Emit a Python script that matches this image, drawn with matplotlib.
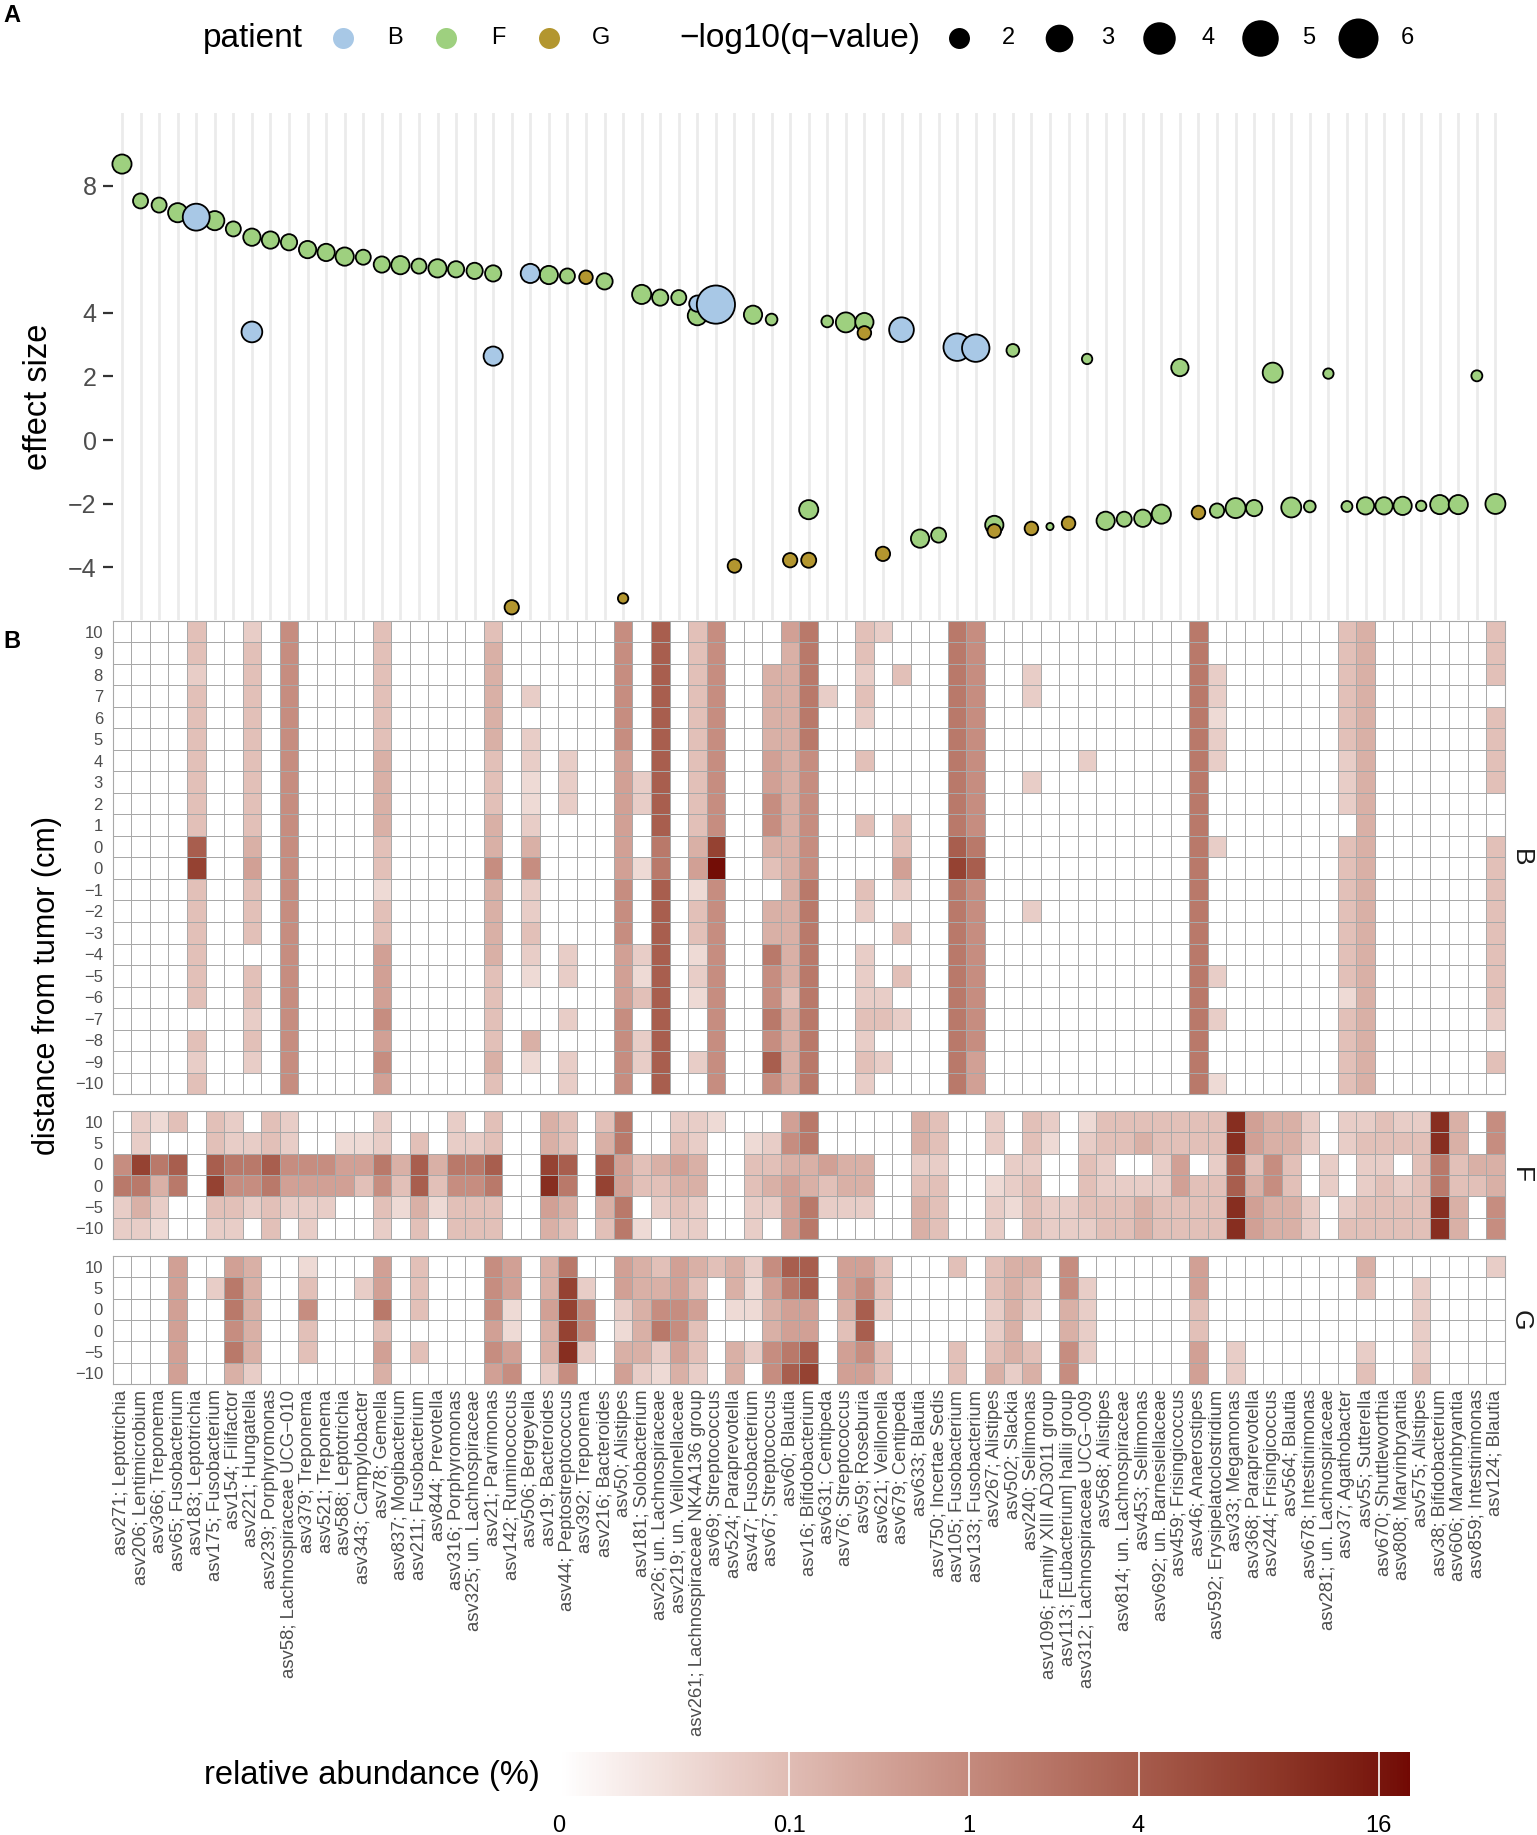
import numpy as np
import matplotlib
matplotlib.use("Agg")
import matplotlib.pyplot as plt
from matplotlib.colors import ListedColormap, FuncNorm, to_rgb

plt.rcParams["font.family"] = ["Liberation Sans", "DejaVu Sans"]

# Taxa on the shared x axis (left to right)
taxa = [
    "asv271; Leptotrichia", "asv206; Lentimicrobium", "asv366; Treponema",
    "asv65; Fusobacterium", "asv183; Leptotrichia", "asv175; Fusobacterium",
    "asv154; Filifactor", "asv221; Hungatella", "asv239; Porphyromonas",
    "asv58; Lachnospiraceae UCG\u2212010", "asv379; Treponema", "asv521; Treponema",
    "asv588; Leptotrichia", "asv343; Campylobacter", "asv78; Gemella",
    "asv837; Mogibacterium", "asv211; Fusobacterium", "asv844; Prevotella",
    "asv316; Porphyromonas", "asv325; un. Lachnospiraceae", "asv21; Parvimonas",
    "asv142; Ruminococcus", "asv506; Bergeyella", "asv19; Bacteroides",
    "asv44; Peptostreptococcus", "asv392; Treponema", "asv216; Bacteroides",
    "asv50; Alistipes", "asv181; Solobacterium", "asv26; un. Lachnospiraceae",
    "asv219; un. Veillonellaceae", "asv261; Lachnospiraceae NK4A136 group",
    "asv69; Streptococcus", "asv524; Paraprevotella", "asv47; Fusobacterium",
    "asv67; Streptococcus", "asv60; Blautia", "asv16; Bifidobacterium",
    "asv631; Centipeda", "asv76; Streptococcus", "asv59; Roseburia",
    "asv621; Veillonella", "asv679; Centipeda", "asv633; Blautia",
    "asv750; Incertae Sedis", "asv105; Fusobacterium", "asv133; Fusobacterium",
    "asv267; Alistipes", "asv502; Slackia", "asv240; Sellimonas",
    "asv1096; Family XIII AD3011 group", "asv113; [Eubacterium] hallii group",
    "asv312; Lachnospiraceae UCG\u2212009", "asv568; Alistipes",
    "asv814; un. Lachnospiraceae", "asv453; Sellimonas",
    "asv692; un. Barnesiellaceae", "asv459; Frisingicoccus", "asv46; Anaerostipes",
    "asv592; Erysipelatoclostridium", "asv33; Megamonas", "asv368; Paraprevotella",
    "asv244; Frisingicoccus", "asv564; Blautia", "asv678; Intestinimonas",
    "asv281; un. Lachnospiraceae", "asv37; Agathobacter", "asv55; Sutterella",
    "asv670; Shuttleworthia", "asv808; Marvinbryantia", "asv575; Alistipes",
    "asv38; Bifidobacterium", "asv606; Marvinbryantia", "asv859; Intestinimonas",
    "asv124; Blautia",
]

# Panel A: effect size and -log10(q) per patient
b_asv = ["asv183", "asv221", "asv21", "asv506", "asv261", "asv69", "asv679", "asv105", "asv133"]
b_effect = [7.01, 3.40, 2.64, 5.24, 4.29, 4.26, 3.47, 2.92, 2.89]
b_q = [3.2, 2.2, 2.0, 2.0, 1.7, 6.0, 2.8, 3.3, 3.3]

f_asv = ["asv271", "asv206", "asv366", "asv65", "asv175", "asv154", "asv221", "asv239",
         "asv58", "asv379", "asv521", "asv588", "asv343", "asv78", "asv837", "asv211",
         "asv844", "asv316", "asv325", "asv21", "asv19", "asv44", "asv216", "asv181",
         "asv26", "asv219", "asv261", "asv47", "asv67", "asv16", "asv631", "asv76",
         "asv59", "asv633", "asv750", "asv267", "asv502", "asv1096", "asv312", "asv568",
         "asv814", "asv453", "asv692", "asv459", "asv592", "asv33", "asv368", "asv244",
         "asv564", "asv678", "asv281", "asv37", "asv55", "asv670", "asv808", "asv575",
         "asv38", "asv606", "asv859", "asv124"]
f_effect = [8.68, 7.52, 7.39, 7.15, 6.90, 6.64, 6.38, 6.29, 6.22, 5.99,
            5.90, 5.77, 5.75, 5.52, 5.50, 5.47, 5.40, 5.37, 5.32, 5.24,
            5.19, 5.16, 4.99, 4.58, 4.48, 4.48, 3.91, 3.94, 3.79, -2.19,
            3.73, 3.70, 3.71, -3.10, -2.99, -2.67, 2.82, -2.72, 2.55, -2.54,
            -2.49, -2.46, -2.33, 2.28, -2.22, -2.14, -2.14, 2.12, -2.12, -2.09,
            2.09, -2.09, -2.07, -2.07, -2.07, -2.07, -2.03, -2.03, 2.02, -2.01]
f_q = [2.0, 1.6, 1.6, 2.0, 2.0, 1.6, 1.8, 1.8, 1.7, 1.8,
       1.8, 1.9, 1.6, 1.7, 1.9, 1.6, 1.9, 1.7, 1.7, 1.7,
       1.9, 1.6, 1.7, 2.0, 1.7, 1.6, 2.0, 1.9, 1.4, 2.0,
       1.4, 2.1, 1.9, 1.9, 1.6, 1.9, 1.45, 1.3, 1.35, 1.9,
       1.6, 1.8, 2.0, 1.8, 1.55, 2.1, 1.7, 2.1, 2.1, 1.4,
       1.35, 1.37, 1.8, 1.8, 1.9, 1.35, 2.0, 2.0, 1.37, 2.1]

g_asv = ["asv142", "asv392", "asv50", "asv524", "asv60", "asv16", "asv59", "asv621",
         "asv267", "asv240", "asv113", "asv46"]
g_effect = [-5.26, 5.12, -4.98, -3.96, -3.78, -3.78, 3.37, -3.58, -2.86, -2.78, -2.62, -2.28]
g_q = [1.55, 1.5, 1.35, 1.5, 1.55, 1.6, 1.5, 1.55, 1.5, 1.5, 1.5, 1.5]

patient_colors = {"B": "#a8c8e6", "F": "#9ed07f", "G": "#b3962f"}

# Panel B: abundance levels, one string per taxon, rows from top to bottom
level_pct = {"0": 0.0, "1": 0.01, "2": 0.03, "3": 0.08, "4": 0.2, "5": 0.42,
             "6": 0.9, "7": 1.8, "8": 3.8, "9": 7.5, "A": 11.0, "B": 18.0}

dist_b = ["10", "9", "8", "7", "6", "5", "4", "3", "2", "1", "0", "0",
          "\u22121", "\u22122", "\u22123", "\u22124", "\u22125", "\u22126",
          "\u22127", "\u22128", "\u22129", "\u221210"]
dist_fg = ["10", "5", "0", "0", "\u22125", "\u221210"]

heat_b = [
    "0000000000000000000000", "0000000000000000000000", "0000000000000000000000",
    "0000000000000000000000", "3323333333893333330323", "0000000000000000000000",
    "0000000000000000000000", "2333333333453330332320", "0000000000000000000000",
    "6666666666666666666666",  # 10
    "0000000000000000000000", "0000000000000000000000", "0000000000000000000000",
    "0000000000000000000000", "3333334444331335556565", "0000000000000000000000",
    "0000000000000000000000", "0000000000000000000000", "0000000000000000000000",
    "0000000000000000000000",  # 20
    "3444443334464444333343", "0000000000000000000000", "0002022112462232100410",
    "0000000000000000000000", "0000002220000002202022", "0000000000000000000000",
    "0000000000000000000000", "6666665555556665556666", "0000000220010002130220",
    "8888888888778888888888",  # 30
    "0000000000000000000000", "3333333333451331210020", "66666666669B6666666666",
    "0000000000000000000000", "0000000000000000000000", "0044445566430447667686",
    "5444444444444444434444", "7777776666667777777777", "0002000000000000000000",
    "0000000000000000000000",  # 40
    "3323203003003202223232", "2000000000000000023020", "0030000003352030302000",
    "0000000000000000000000", "0000000000000000000000", "7777777777897777777777",
    "6666666666786666666655", "0000000000000000000000", "0000000000000000000000",
    "0022000200000200000000",  # 50
    "0000000000000000000000", "0000000000000000000000", "0000002000000000000000",
    "0000000000000000000000", "0000000000000000000000", "0000000000000000000000",
    "0000000000000000000000", "0000000000000000000000", "7777777777777777777777",
    "0022122000200000202001",  # 60
    "0000000000000000000000", "0000000000000000000000", "0000000000000000000000",
    "0000000000000000000000", "0000000000000000000000", "0000000000000000000000",
    "3333332220333333313333", "4444444444444444444444", "0000000000000000000000",
    "0000000000000000000000",  # 70
    "0000000000000000000000", "0000000000000000000000", "0000000000000000000000",
    "0000000000000000000000", "3330333300333333332030",
]

heat_f = [
    "006722", "229742", "107421", "308700", "000000", "338932", "227632", "027620", "338733", "226520",
    "006522", "006520", "015500", "015300", "227632", "004310", "038843", "004310", "227633", "027633",
    "338733", "000000", "000000", "449A54", "338743", "000000", "348943", "775577", "003301", "004320",
    "235432", "224422", "100000", "000000", "013322", "023420", "564555", "774477", "005320", "004420",
    "004420", "000000", "000000", "442344", "332333", "000000", "000000", "220122", "002210", "332333",
    "210022", "000022", "123332", "332233", "330233", "340244", "332233", "335533", "330333", "332333",
    "AA88AA", "553455", "446644", "443344", "220022", "002200", "220023", "232233", "332333", "230233",
    "233333", "AA77AA", "443344", "004300", "664466",
]

heat_g = [
    "000000", "000000", "000000", "555555", "000000", "020000", "577674", "444442", "000000", "000000",
    "136330", "000000", "000000", "020000", "557354", "000000", "333030", "000000", "000000", "000000",
    "666565", "551156", "000000", "445442", "7999A6", "026620", "000000", "552145", "444442", "346721",
    "556654", "435332", "300000", "441044", "211020", "654466", "875578", "885589", "000000", "554355",
    "568865", "332033", "000000", "000000", "000000", "300033", "000000", "332234", "444442", "432034",
    "000000", "664466", "022220", "000000", "000000", "000000", "000000", "000000", "553355", "000000",
    "000022", "000000", "000000", "000000", "000000", "000000", "000000", "430023", "000000", "000000",
    "022223", "000000", "000000", "000000", "200000",
]

assert len(taxa) == 75 and len(heat_b) == 75 and len(heat_f) == 75 and len(heat_g) == 75
assert all(len(s) == 22 for s in heat_b)
assert all(len(s) == 6 for s in heat_f + heat_g)

asv_ids = [t.split(";")[0] for t in taxa]
pos = {a: i + 1 for i, a in enumerate(asv_ids)}

W, H = 1537, 1835


def fx(px):
    return px / W


def fy(py):
    return 1 - py / H


# white -> dark red gradient interpolated in Lab space (like ggplot)
RGB2XYZ = np.array([[0.4124, 0.3576, 0.1805],
                    [0.2126, 0.7152, 0.0722],
                    [0.0193, 0.1192, 0.9505]])
WHITE = np.array([0.95047, 1.0, 1.08883])


def to_lab(color):
    c = np.array(to_rgb(color))
    lin = np.where(c <= 0.04045, c / 12.92, ((c + 0.055) / 1.055) ** 2.4)
    xyz = RGB2XYZ @ lin / WHITE
    f = np.where(xyz > 0.008856, np.cbrt(xyz), 7.787 * xyz + 16 / 116)
    return np.array([116 * f[1] - 16, 500 * (f[0] - f[1]), 200 * (f[1] - f[2])])


def from_lab(lab):
    fyv = (lab[0] + 16) / 116
    f = np.array([fyv + lab[1] / 500, fyv, fyv - lab[2] / 200])
    xyz = np.where(f ** 3 > 0.008856, f ** 3, (f - 16 / 116) / 7.787) * WHITE
    lin = np.clip(np.linalg.solve(RGB2XYZ, xyz), 0, 1)
    c = np.where(lin <= 0.0031308, 12.92 * lin, 1.055 * lin ** (1 / 2.4) - 0.055)
    return np.clip(c, 0, 1)


lab_lo, lab_hi = to_lab("#ffffff"), to_lab("#720904")
cmap = ListedColormap([from_lab(lab_lo + t * (lab_hi - lab_lo)) for t in np.linspace(0, 1, 256)])
norm = FuncNorm((lambda x: np.power(np.clip(x, 0, None), 0.25), lambda y: np.power(y, 4)),
                vmin=0, vmax=18.6)


# point size: ggplot-like area scale, diameter in pixels
def marker_area(q, lw=1.3):
    q = np.asarray(q, dtype=float)
    d = 9 + 31 * np.sqrt(np.clip((q - 1.3) / 4.7, 0, 1))
    return (d * 0.72 - lw) ** 2


fig = plt.figure(figsize=(W / 100, H / 100), dpi=100)

# overlay for titles and legends (pixel coordinates)
ov = fig.add_axes([0, 0, 1, 1])
ov.set_xlim(0, W)
ov.set_ylim(H, 0)
ov.axis("off")

# ---- Panel A: effect sizes ----
ax = fig.add_axes([fx(112.7), fy(620), (1504.7 - 112.7) / W, (620 - 113.5) / H])
ax.set_xlim(0.5, 75.5)
ax.set_ylim(-5.66, 10.27)
ax.set_xticks(np.arange(1, 76))
ax.grid(axis="x", color="#ebebeb", linewidth=2.0)
ax.set_axisbelow(True)
for s in ax.spines.values():
    s.set_visible(False)
ax.tick_params(axis="x", length=0, labelbottom=False)
ax.set_yticks([8, 4, 2, 0, -2, -4])
ax.set_yticklabels(["8", "4", "2", "0", "\u22122", "\u22124"])
ax.tick_params(axis="y", length=7, width=1.6, color="#333333", labelsize=18,
               labelcolor="#4d4d4d", pad=4.5)

for asvs, eff, q, key in [(f_asv, f_effect, f_q, "F"),
                          (b_asv, b_effect, b_q, "B"),
                          (g_asv, g_effect, g_q, "G")]:
    ax.scatter([pos[a] for a in asvs], eff, s=marker_area(q), color=patient_colors[key],
               edgecolor="black", linewidth=1.3, zorder=3, clip_on=False)

# ---- Panel B: heatmaps ----
panels = [("B", heat_b, dist_b, 621, 1094),
          ("F", heat_f, dist_fg, 1111, 1239),
          ("G", heat_g, dist_fg, 1256, 1384)]
mesh = None
for name, cols, rows, top, bottom in panels:
    hx = fig.add_axes([fx(112.7), fy(bottom), (1504.7 - 112.7) / W, (bottom - top) / H])
    n = len(rows)
    mat = np.array([[level_pct[cols[c][r]] for c in range(75)] for r in range(n)])
    mesh = hx.pcolormesh(np.arange(76) + 0.5, np.arange(n + 1) - 0.5, mat, cmap=cmap,
                         norm=norm, edgecolors="#a8a8a8", linewidth=0.6)
    hx.set_xlim(0.5, 75.5)
    hx.set_ylim(n - 0.5, -0.5)
    hx.set_yticks(np.arange(n))
    hx.set_yticklabels(rows)
    hx.tick_params(axis="y", length=0, labelsize=12, labelcolor="#4d4d4d", pad=7)
    hx.set_xticks(np.arange(1, 76))
    if name == "G":
        hx.set_xticklabels(taxa, rotation=90, fontsize=13.3, color="#4d4d4d")
        hx.tick_params(axis="x", length=0, pad=4)
    else:
        hx.tick_params(axis="x", length=0, labelbottom=False)
    for s in hx.spines.values():
        s.set_color("#a8a8a8")
        s.set_linewidth(0.8)
    ov.text(1521, (top + bottom) / 2, name, rotation=270, ha="center", va="center",
            fontsize=19, color="#1a1a1a")

# ---- titles ----
ov.text(3, 16, "A", fontsize=17, fontweight="bold", ha="left", va="center")
ov.text(3, 641, "B", fontsize=17, fontweight="bold", ha="left", va="center")
ov.text(39, 397, "effect size", rotation=90, fontsize=23.5, ha="center", va="center")
ov.text(47, 985, "distance from tumor (cm)", rotation=90, fontsize=22, ha="center", va="center")

# ---- legends ----
ov.text(203, 38, "patient", fontsize=24, ha="left", va="center")
for key, kx in zip(["B", "F", "G"], [343, 446, 549]):
    ov.scatter([kx], [38], s=(21 * 0.72) ** 2, color=patient_colors[key], linewidth=0, clip_on=False)
    ov.text(kx + 52, 38, key, fontsize=17, ha="center", va="center")

ov.text(679, 38, "\u2212log10(q\u2212value)", fontsize=24, ha="left", va="center")
for qv, kx in zip([2, 3, 4, 5, 6], [959, 1059, 1159, 1260, 1358]):
    ov.scatter([kx], [38], s=marker_area(qv, lw=0), color="black", linewidth=0, clip_on=False)
    ov.text(kx + 49, 38, str(qv), fontsize=17, ha="center", va="center")

# ---- colour bar ----
cax = fig.add_axes([fx(559), fy(1796), (1410 - 559) / W, 44 / H])
ticks = [0, 0.1, 1, 4, 16]
cb = fig.colorbar(mesh, cax=cax, orientation="horizontal", ticks=ticks)
cb.set_ticklabels(["0", "0.1", "1", "4", "16"])
cb.outline.set_visible(False)
cax.tick_params(length=0, labelsize=17, pad=14)
for v in ticks[1:]:
    cax.axvline(v, color="white", linewidth=1.2)
ov.text(204, 1775, "relative abundance (%)", fontsize=23.5, ha="left", va="center")

fig.savefig("out.png", dpi=100)
